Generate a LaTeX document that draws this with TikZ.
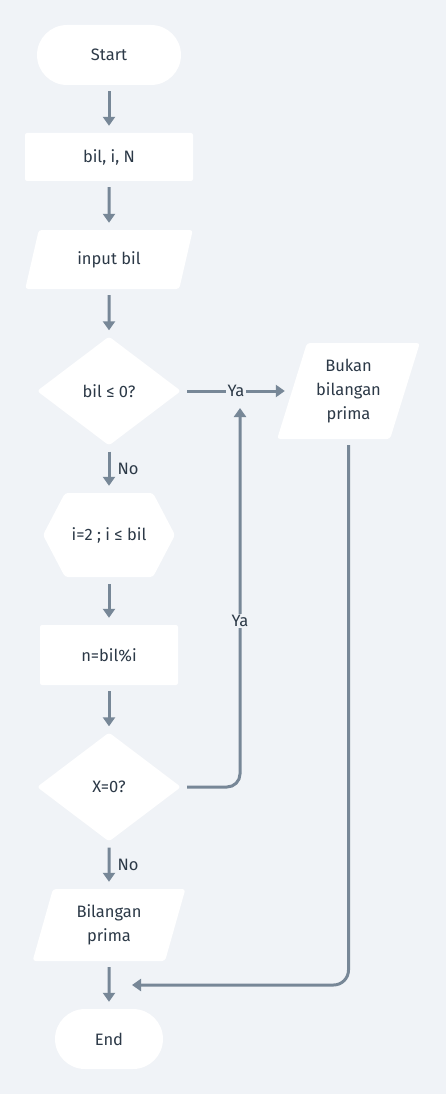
\documentclass[tikz,border=0pt]{standalone}
\usepackage{fontspec}
\setmainfont{Fira Sans}
\usetikzlibrary{shapes.geometric,arrows.meta}
\definecolor{bgc}{HTML}{F0F3F7}
\definecolor{arrc}{HTML}{778797}
\definecolor{txtc}{HTML}{2C3947}
\tikzset{
  every node/.style={font=\fontsize{16.5}{24}\selectfont, text=txtc, align=center, inner sep=0pt},
  boxw/.style={fill=white},
  stadium/.style={boxw, rounded corners=30pt, minimum height=60pt},
  rectbox/.style={boxw, rounded corners=2pt},
  para/.style={boxw, trapezium, trapezium stretches=true, rounded corners=3pt},
  dia/.style={boxw, diamond, minimum width=144pt, minimum height=109pt, rounded corners=3pt},
  arr/.style={draw=arrc, line width=3pt, -{Triangle[width=12pt,length=9pt]}},
  lin/.style={draw=arrc, line width=3pt},
  lbl/.style={fill=bgc, inner sep=1.5pt},
}
\begin{document}
\begin{tikzpicture}[x=1pt,y=-1pt]
\fill[bgc] (0,0) rectangle (446,1094);
\useasboundingbox (0,0) rectangle (446,1094);

\node[stadium, minimum width=144pt] (start) at (109,55) {Start};
\node[rectbox, minimum width=168pt, minimum height=48pt] (vars) at (109,157) {bil, i, N};
\node[para, trapezium left angle=69.5, trapezium right angle=110.5, minimum width=168pt, minimum height=59pt] (inp) at (109,259.5) {input bil};
\node[dia] (d1) at (109,391) {bil ≤ 0?};
\node[para, trapezium left angle=70, trapezium right angle=110, minimum width=143pt, minimum height=96pt] (bukan) at (348.5,391) {Bukan\\bilangan\\prima};
\fill[white, rounded corners=3pt] (43,535) -- (65,493) -- (153,493) -- (175,535) -- (153,577) -- (65,577) -- cycle;
\node[minimum width=132pt, minimum height=84pt] (hex) at (109,535) {i=2 ; i ≤ bil};
\node[rectbox, minimum width=138pt, minimum height=60pt] (nmod) at (109,655) {n=bil\%i};
\node[dia] (d2) at (109,787) {X=0?};
\node[para, trapezium left angle=73.7, trapezium right angle=106.3, minimum width=154pt, minimum height=72pt] (prima) at (109,925) {Bilangan\\prima};
\node[stadium, minimum width=108pt] (end) at (109,1039) {End};

\coordinate (upend) at (240,408);
\coordinate (leftend) at (132,985);

\draw[arr] ([yshift=-6pt]start.south) -- ([yshift=7pt]vars.north);
\draw[arr] ([yshift=-6pt]vars.south) -- ([yshift=7pt]inp.north);
\draw[arr] ([yshift=-6pt]inp.south) -- ([yshift=6pt]d1.north);
\draw[arr] ([xshift=6pt]d1.east) -- ([xshift=-7pt]bukan.west |- d1.east) node[lbl, pos=0.5] (ya1) {Ya};
\draw[arr] ([yshift=-6pt]d1.south) -- node[right=7pt] (no1) {No} ([yshift=7pt]hex.north);
\draw[arr] ([yshift=-7pt]hex.south) -- ([yshift=7pt]nmod.north);
\draw[arr] ([yshift=-6pt]nmod.south) -- ([yshift=6pt]d2.north);
\draw[arr] ([yshift=-6pt]d2.south) -- node[right=7pt] (no2) {No} ([yshift=7pt]prima.north);
\draw[arr] ([yshift=-6pt]prima.south) -- ([yshift=7pt]end.north);
\draw[arr, rounded corners=13pt] ([xshift=6pt]d2.east) -| (upend);
\node[lbl] (ya2) at (240,621) {Ya};
\draw[arr, rounded corners=15pt] ([yshift=-6pt]bukan.south) |- (leftend);
\end{tikzpicture}
\end{document}
